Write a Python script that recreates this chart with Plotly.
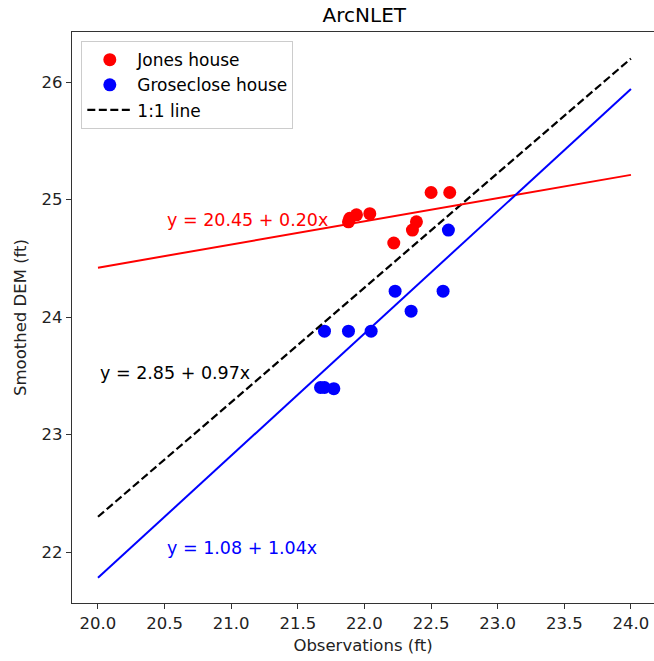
import plotly.graph_objects as go

# Data
jones_x = [21.88, 21.89, 21.94, 22.04, 22.22, 22.36, 22.39, 22.50, 22.64]
jones_y = [24.81, 24.84, 24.87, 24.88, 24.63, 24.74, 24.81, 25.06, 25.06]

gros_x = [21.67, 21.70, 21.77, 21.70, 21.88, 22.05, 22.23, 22.35, 22.59, 22.63]
gros_y = [23.40, 23.40, 23.39, 23.88, 23.88, 23.88, 24.22, 24.05, 24.22, 24.74]

line_x = [20.0, 24.0]
red_fit_y = [24.42, 25.21]
blue_fit_y = [21.78, 25.94]
one_to_one_y = [22.30, 26.20]

x_ticks = [20.0, 20.5, 21.0, 21.5, 22.0, 22.5, 23.0, 23.5, 24.0]
y_ticks = [22, 23, 24, 25, 26]

FONT = "DejaVu Sans"

fig = go.Figure()
fig.add_trace(go.Scatter(x=jones_x, y=jones_y, mode="markers", name="Jones house",
                         marker=dict(color="#ff0000", size=13, line=dict(width=0))))
fig.add_trace(go.Scatter(x=gros_x, y=gros_y, mode="markers", name="Groseclose house",
                         marker=dict(color="#0000ff", size=13, line=dict(width=0))))
fig.add_trace(go.Scatter(x=line_x, y=one_to_one_y, mode="lines", name="1:1 line",
                         line=dict(color="black", width=2.2, dash="8px,3.5px")))
fig.add_trace(go.Scatter(x=line_x, y=red_fit_y, mode="lines", showlegend=False,
                         line=dict(color="#ff0000", width=2)))
fig.add_trace(go.Scatter(x=line_x, y=blue_fit_y, mode="lines", showlegend=False,
                         line=dict(color="#0000ff", width=2)))

fig.add_annotation(x=20.5, y=24.83, text="y = 20.45 + 0.20x", showarrow=False,
                   xanchor="left", yanchor="middle", font=dict(color="#ff0000", size=17.5, family=FONT))
fig.add_annotation(x=20.0, y=23.52, text="y = 2.85 + 0.97x", showarrow=False,
                   xanchor="left", yanchor="middle", font=dict(color="black", size=17.5, family=FONT))
fig.add_annotation(x=20.5, y=22.03, text="y = 1.08 + 1.04x", showarrow=False,
                   xanchor="left", yanchor="middle", font=dict(color="#0000ff", size=17.5, family=FONT))

fig.update_layout(
    width=654, height=661,
    margin=dict(l=72, r=0, t=32, b=58),
    plot_bgcolor="white", paper_bgcolor="white",
    font=dict(family=FONT, size=16.5, color="#222222"),
    title=dict(text="ArcNLET", x=0.557, xanchor="center", y=0.977, yanchor="middle",
               font=dict(size=20, family=FONT, color="black")),
    legend=dict(x=0.016, y=0.984, xanchor="left", yanchor="top",
                bgcolor="rgba(255,255,255,0.8)", bordercolor="#cccccc", borderwidth=1,
                font=dict(size=17, family=FONT, color="black"), tracegroupgap=6,
                itemwidth=45),
    showlegend=True,
)
fig.update_xaxes(range=[19.805, 24.173], tickvals=x_ticks,
                 ticktext=[f"{v:.1f}" for v in x_ticks],
                 showgrid=False, zeroline=False, showline=True, linecolor="#333333",
                 linewidth=1.3, mirror=True, ticks="outside", ticklen=5, tickcolor="#333333",
                 title=dict(text="Observations (ft)", standoff=7, font=dict(size=16.5)))
fig.update_yaxes(range=[21.566, 26.426], tickvals=y_ticks,
                 showgrid=False, zeroline=False, showline=True, linecolor="#333333",
                 linewidth=1.3, mirror=False, ticks="outside", ticklen=5, tickcolor="#333333",
                 title=dict(text="Smoothed DEM (ft)", standoff=10, font=dict(size=16.5)))

fig.write_html("out.html")
